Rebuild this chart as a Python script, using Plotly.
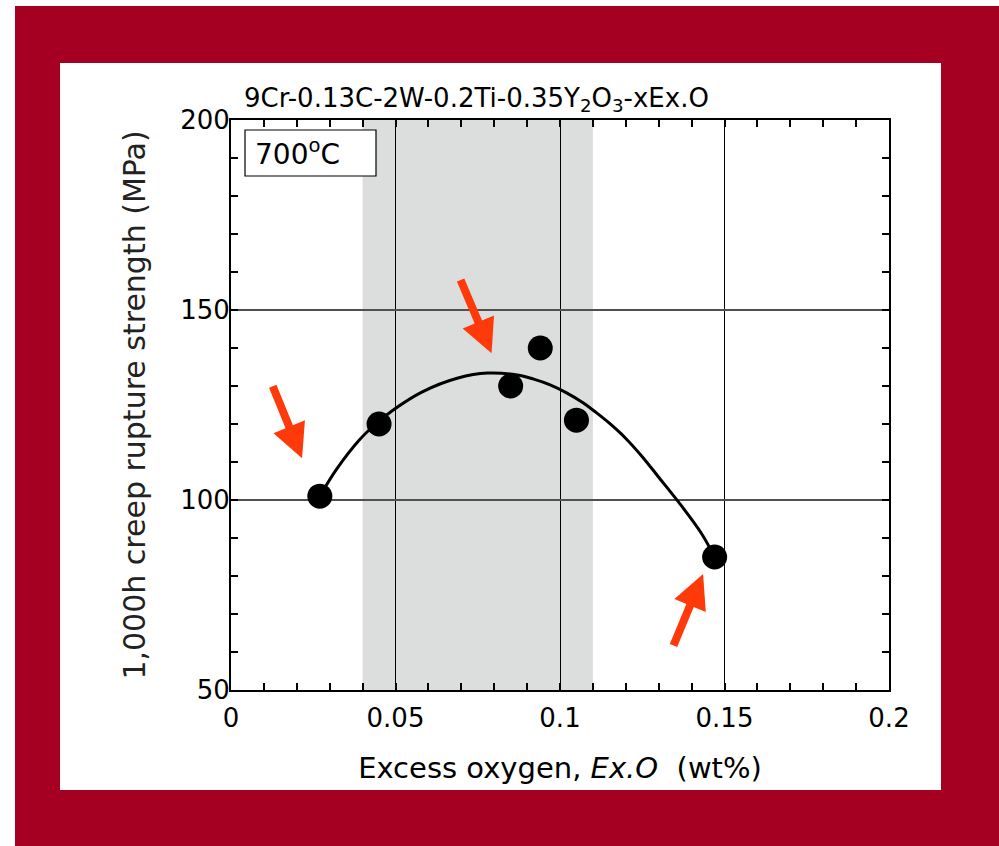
import plotly.graph_objects as go

# Measured creep rupture strength vs excess oxygen
ex_o = [0.027, 0.045, 0.085, 0.094, 0.105, 0.147]
strength = [101, 120, 130, 140, 121, 85]

# Trend curve through the data
fit_x = [0.027, 0.032, 0.039, 0.044, 0.049, 0.058, 0.069, 0.078, 0.087,
         0.092, 0.097, 0.102, 0.107, 0.111, 0.115, 0.120, 0.125, 0.130,
         0.136, 0.143, 0.147]
fit_y = [101, 108, 115.8, 120, 123.5, 128.4, 132.1, 133.4, 132.9,
         131.8, 130.3, 128.2, 125.6, 123.0, 120.2, 116.2, 111.4, 106.0,
         99.5, 91.2, 85]

# Optimum excess-oxygen window
band_range = [0.04, 0.11]

x_ticks = [0, 0.05, 0.1, 0.15, 0.2]
x_ticklabels = ["0", "0.05", "0.1", "0.15", "0.2"]
y_ticks = [50, 100, 150, 200]

W, H = 999, 846
L, R, T, B = 231, 889, 120, 690
FONT = "DejaVu Sans, Arial, sans-serif"
FRAME = "#A50021"
ARROW = "#FF3A0A"


def px(xp):
    return (xp - L) / (R - L)


def py(yp):
    return (B - yp) / (B - T)


fig = go.Figure()

fig.add_trace(go.Scatter(
    x=fit_x, y=fit_y, mode="lines",
    line=dict(color="black", width=3, shape="spline", smoothing=1),
    hoverinfo="skip", showlegend=False))
fig.add_trace(go.Scatter(
    x=ex_o, y=strength, mode="markers",
    marker=dict(color="black", size=25, line=dict(width=0)), showlegend=False))

shapes = [
    # white edge strips, then white panel inside the red frame
    dict(type="rect", xref="paper", yref="paper", x0=px(0), x1=px(W), y0=py(0), y1=py(6),
         fillcolor="white", line=dict(width=0), layer="below"),
    dict(type="rect", xref="paper", yref="paper", x0=px(0), x1=px(15), y0=py(0), y1=py(H),
         fillcolor="white", line=dict(width=0), layer="below"),
    dict(type="rect", xref="paper", yref="paper", x0=px(60), x1=px(941), y0=py(63), y1=py(790),
         fillcolor="white", line=dict(width=0), layer="below"),
    # shaded band
    dict(type="rect", xref="x", yref="paper", x0=band_range[0], x1=band_range[1], y0=0, y1=1,
         fillcolor="#DCDDDD", line=dict(width=0), layer="below"),
    # temperature label box
    dict(type="rect", xref="paper", yref="paper", x0=px(245), x1=px(376), y0=py(176), y1=py(130),
         fillcolor="white", line=dict(color="black", width=1.2), layer="above"),
]

annotations = [
    dict(text="9Cr-0.13C-2W-0.2Ti-0.35Y<sub>2</sub>O<sub>3</sub>-xEx.O", xref="paper", yref="paper",
         x=px(242), y=py(99), xanchor="left", yanchor="middle", showarrow=False,
         font=dict(family=FONT, size=26, color="black")),
    dict(text="700<sup>o</sup>C", xref="paper", yref="paper", x=px(297), y=py(153),
         xanchor="center", yanchor="middle", showarrow=False,
         font=dict(family=FONT, size=28, color="black")),
]

# arrows: (tail_x, tail_y, tip_x, tip_y) in data units
arrows = [
    (0.0125, 130.3, 0.0216, 111.0),
    (0.0696, 158.3, 0.0792, 138.6),
    (0.1343, 61.3, 0.1435, 80.5),
]
for tx, ty, hx, hy in arrows:
    annotations.append(dict(
        x=hx, y=hy, ax=tx, ay=ty, xref="x", yref="y", axref="x", ayref="y",
        text="", showarrow=True, arrowhead=2, arrowsize=0.85, arrowwidth=8,
        arrowcolor=ARROW, standoff=0))

fig.update_layout(
    width=W, height=H,
    margin=dict(l=L, r=W - R, t=T, b=H - B, pad=0),
    paper_bgcolor=FRAME, plot_bgcolor="white",
    shapes=shapes, annotations=annotations,
    showlegend=False,
)

fig.update_xaxes(
    range=[0, 0.2], tickvals=x_ticks, ticktext=x_ticklabels,
    showgrid=True, gridcolor="black", gridwidth=1.2, zeroline=False,
    showline=True, linecolor="black", linewidth=2, mirror="ticks",
    ticks="inside", ticklen=7, tickcolor="black", tickwidth=1.5,
    minor=dict(dtick=0.01, ticks="inside", ticklen=7, tickcolor="black", tickwidth=1.5, showgrid=False),
    tickfont=dict(family=FONT, size=26, color="black"), ticklabelstandoff=4,
    title=dict(text="Excess oxygen, <i>Ex.O</i>  (wt%)", standoff=25,
               font=dict(family=FONT, size=29, color="black")),
)
fig.update_yaxes(
    range=[50, 200], tickvals=y_ticks,
    showgrid=True, gridcolor="#505050", gridwidth=1.5, zeroline=False,
    showline=True, linecolor="black", linewidth=2, mirror="ticks",
    ticks="inside", ticklen=7, tickcolor="black", tickwidth=1.5,
    minor=dict(dtick=10, ticks="inside", ticklen=7, tickcolor="black", tickwidth=1.5, showgrid=False),
    tickfont=dict(family=FONT, size=26, color="black"), ticklabelstandoff=-6,
    title=dict(text="1,000h creep rupture strength (MPa)", standoff=26,
               font=dict(family=FONT, size=30, color="#222222")),
)

fig.write_html("out.html")
